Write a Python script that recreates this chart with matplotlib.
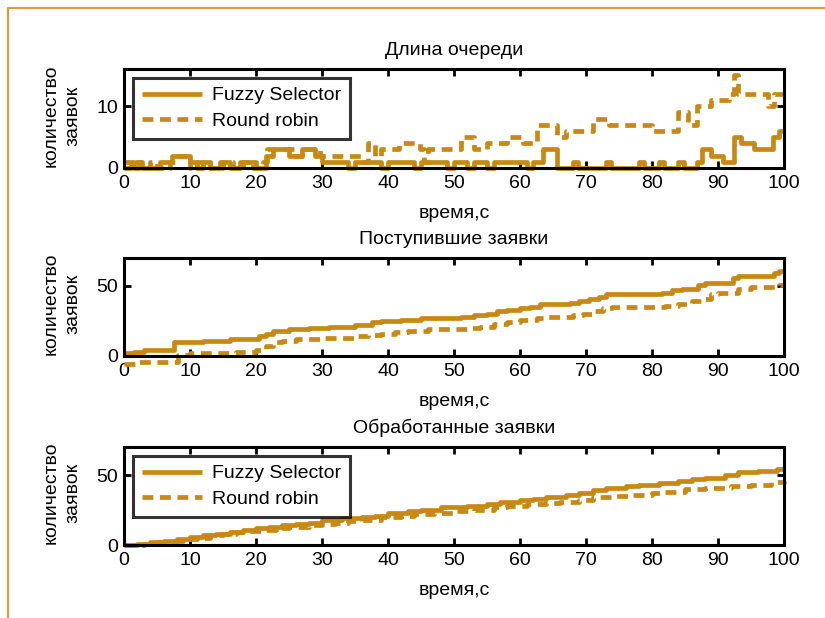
import matplotlib
matplotlib.use("Agg")
import matplotlib.pyplot as plt
from matplotlib.lines import Line2D

plt.rcParams['font.family'] = ['Liberation Sans', 'DejaVu Sans']

COLOR = '#C88914'
FS = 14

# ---- Data ----
# Panel 1: queue length (step functions: time, value)
q_fuzzy_t = [0, 1.5, 2.2, 2.8, 5.5, 7.3, 10, 11, 12, 13, 14.5, 16, 17.5, 20, 21.5, 22.5, 25, 27, 29, 30,
             34, 35, 38, 39, 40, 44, 45, 49, 50, 52, 53, 55, 56, 61, 62, 63.5, 65.6, 68, 68.8, 73, 73.8,
             78, 78.8, 81, 81.8, 84, 84.8, 86.8, 87.5, 89, 90.8, 92.4, 93.5, 95.5, 98.3, 99.3, 100]
q_fuzzy_v = [1, 0, 1, 0, 1, 2, 1, 0, 1, 0, 1, 0, 1, 0, 2, 3, 2, 3, 2, 1,
             0, 1, 1, 0, 1, 0, 1, 0, 1, 0, 1, 0, 1, 0, 1, 3, 0, 1, 0, 1, 0,
             1, 0, 1, 0, 1, 0, 1, 3, 2, 1, 5, 4, 3, 5, 6, 6]
q_rr_t = [0, 1, 2.5, 4, 5, 7, 8, 10, 11, 13, 15, 16.5, 18, 19.5, 21, 21.7, 26, 27, 29.7, 36, 37, 38, 39,
          41.7, 44.8, 45.5, 46, 51, 53, 55, 58, 60.5, 62.6, 65.6, 67, 71, 73.5, 80, 84, 85.5, 86.8, 89,
          91.6, 92.4, 93, 97.6, 98.5, 100]
q_rr_v = [0, 1, 0, 1, 0, 1, 2, 0, 1, 0, 1, 0, 1, 0, 1, 3, 2, 3, 2, 1, 4, 2, 3,
          4, 3, 1, 3, 5, 3, 4, 5, 4, 7, 5, 6, 8, 7, 6, 9, 7, 10, 11,
          12, 15, 12, 10, 12, 12]

# Panel 2: arrived requests
a_fuzzy_t = [0, 1.5, 3, 7.5, 12, 16, 20.5, 21.5, 22.5, 25, 28, 31, 35, 37.5, 39, 42, 45, 51, 53, 55, 56.5,
             58, 60, 61.5, 63, 67.5, 69, 70.5, 72, 73, 81.5, 83, 84.5, 87, 88, 92.3, 93, 98.5, 99.3, 100]
a_fuzzy_v = [2, 3, 4, 10, 11, 12, 14, 16, 18, 19, 20, 21, 22, 24, 25, 26, 27, 28, 29, 30, 32,
             33, 34, 35, 37, 38, 39, 41, 42, 44, 45, 47, 48, 51, 52, 56, 57, 59, 61, 61]
a_rr_t = [0, 2, 8.2, 10, 17, 20, 21.5, 22.5, 24, 26, 30, 35, 37, 39, 41, 43, 46, 52, 54, 56, 58, 60,
          62.5, 64, 68, 69.5, 71, 72.5, 74, 82, 84, 86, 87.5, 89, 90, 93, 95, 99.2, 100]
a_rr_v = [-6, -4, 1, 2, 3, 4, 7, 10, 11, 12, 13, 14, 15, 16, 17, 18, 19, 20, 21, 23, 24, 26,
          27, 28, 29, 30, 32, 34, 35, 36, 37, 39, 41, 44, 45, 48, 49, 51, 51]

# Panel 3: processed requests
p_fuzzy_t = [0, 2, 4, 6, 8, 10, 12, 14, 16, 18, 20, 22, 24, 26, 28, 30, 33, 36, 38, 40, 43, 45, 48, 52,
             55, 57, 60, 62, 64, 67, 69, 71, 73, 76, 78, 81, 84, 86, 88, 91, 93, 96, 99, 100]
p_fuzzy_v = [0, 1, 2, 3, 4, 6, 7, 8, 9, 11, 12, 13, 14, 15, 16, 18, 19, 20, 21, 23, 24, 25, 27, 28,
             29, 31, 32, 33, 34, 36, 37, 39, 41, 42, 43, 44, 46, 47, 48, 50, 52, 53, 54, 54]
p_rr_t = [0, 3, 5, 7, 9, 11, 13, 15, 17, 19, 21, 23, 25, 28, 30, 32, 34, 36, 39, 42, 44, 47, 50, 53,
          56, 58, 61, 64, 66, 69, 71, 74, 77, 80, 82, 85, 88, 92, 95, 98, 100]
p_rr_v = [0, 1, 2, 3, 4, 5, 7, 8, 9, 10, 11, 12, 13, 14, 15, 16, 17, 18, 20, 21, 22, 23, 24, 25,
          27, 28, 29, 30, 31, 32, 34, 35, 36, 37, 38, 40, 41, 42, 43, 45, 46]

titles = ['Длина очереди', 'Поступившие заявки', 'Обработанные заявки']
ylims = [(0, 16), (0, 70), (0, 70)]
yticks = [[0, 10], [0, 50], [0, 50]]
xticks = list(range(0, 101, 10))
series_names = ['Fuzzy Selector', 'Round robin']
panels = [(q_fuzzy_t, q_fuzzy_v, q_rr_t, q_rr_v),
          (a_fuzzy_t, a_fuzzy_v, a_rr_t, a_rr_v),
          (p_fuzzy_t, p_fuzzy_v, p_rr_t, p_rr_v)]
show_legend = [True, False, True]

W, H = 825, 618
fig = plt.figure(figsize=(W / 100, H / 100), dpi=100)

# decorative frame
fig.add_artist(Line2D([8 / W, 8 / W, 1], [0, 1 - 8 / H, 1 - 8 / H], color='#D9A040', lw=1.6,
                      transform=fig.transFigure))

axes_px = [(69, 168), (258, 356), (447, 545)]
for i, (top, bot) in enumerate(axes_px):
    hgt = bot - top
    ax = fig.add_axes([124 / W, 1 - bot / H, 660 / W, hgt / H])
    ft, fv, rt, rv = panels[i]
    ax.plot(ft, fv, drawstyle='steps-post', color=COLOR, lw=3.4, label=series_names[0],
            clip_on=False, solid_capstyle='butt')
    ax.plot(rt, rv, drawstyle='steps-post', color=COLOR, lw=3.4, ls=(0, (2.3, 1.4)),
            label=series_names[1], clip_on=False, dash_capstyle='butt')
    ax.set_xlim(0, 100)
    ax.set_ylim(*ylims[i])
    ax.set_xticks(xticks)
    ax.set_yticks(yticks[i])
    ax.tick_params(direction='in', length=5, width=2, top=True, right=True,
                   labelsize=FS, pad=4)
    ax.tick_params(axis='x', pad=5)
    for s in ax.spines.values():
        s.set_linewidth(2.2)
    ax.set_title(titles[i], fontsize=FS, pad=10)
    ax.set_xlabel('время,с', fontsize=FS)
    ax.xaxis.set_label_coords(0.5, -(205 - 168) / hgt)
    ax.set_ylabel('количество\nзаявок', fontsize=FS, linespacing=1.4)
    ax.yaxis.set_label_coords(-(124 - 82) / 660, 0.53)
    if show_legend[i]:
        leg = ax.legend(loc='upper left', bbox_to_anchor=(9 / 660, 1 - 9 / hgt), fontsize=FS,
                        frameon=True, fancybox=False, borderpad=0.45, handlelength=3.1,
                        labelspacing=0.4, handletextpad=0.5, borderaxespad=0)
        leg.get_frame().set_edgecolor('black')
        leg.get_frame().set_linewidth(2.2)

fig.savefig('out.png', dpi=100)
